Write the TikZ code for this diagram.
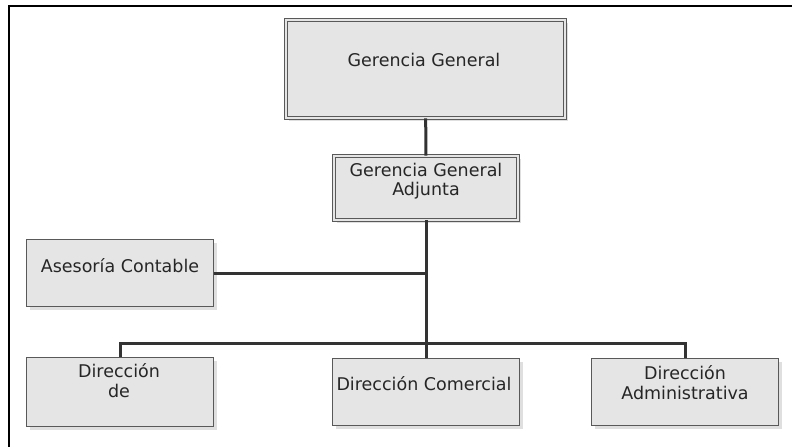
\documentclass[tikz,border=0pt]{standalone}
\usepackage{fontspec}
\setmainfont{DejaVu Sans}
\usetikzlibrary{positioning, shadows}
\tikzset{
  box/.style={rectangle, draw=black!65, line width=0.9pt, fill=gray!20, inner sep=0pt,
    minimum width=187pt, minimum height=67pt,
    drop shadow={shadow xshift=3pt, shadow yshift=-3pt, fill=gray!25, opacity=1}},
  dbox/.style={box, double=gray!20, double distance=2.5pt},
  txt/.style={anchor=north, align=center, inner sep=0pt, text=black!85,
    font=\fontsize{17.5}{19.5}\selectfont},
  link/.style={draw=black!80, line width=3pt},
}

\begin{document}
\begin{tikzpicture}[x=1pt, y=-1pt]
  \useasboundingbox (0,0) rectangle (792,447);
  % marco
  \draw[line width=2pt] (792,6) -- (9.3,6) -- (9.3,447);

  % cajas
  \node (gerencia) [dbox, minimum width=279pt, minimum height=98pt] at (425.5,69) {};
  \node (adjunta) [dbox, minimum width=184pt, minimum height=64pt] at (426,188) {};
  \node (asesoria) [box] at (120,273) {};
  \node (dir 1) [box, minimum height=69pt] at (120,392) {};
  \node (dir 2) [box] at (426,392) {};
  \node (dir 3) [box] at (685,392) {};
  \coordinate (bus) at (426,343);

  % lineas
  \path[link] (gerencia) -- (adjunta);
  \path[link] (adjunta) -- (dir 2);
  \path[link] (asesoria.east) -- (asesoria.east -| adjunta.south);
  \path[link] (dir 1.north) |- (bus) -| (dir 3.north);

  % textos
  \node (t gerencia) [txt] at (424,53) {Gerencia General};
  \node (t adjunta) [txt] at (426,163) {Gerencia General\\Adjunta};
  \node (t asesoria) [txt] at (120,258.5) {Asesoría Contable};
  \node (t dir 1) [txt] at (119,363.5) {Dirección\\de};
  \node (t dir 2) [txt] at (424,376) {Dirección Comercial};
  \node (t dir 3) [txt] at (685,365.5) {Dirección\\Administrativa};
\end{tikzpicture}
\end{document}
